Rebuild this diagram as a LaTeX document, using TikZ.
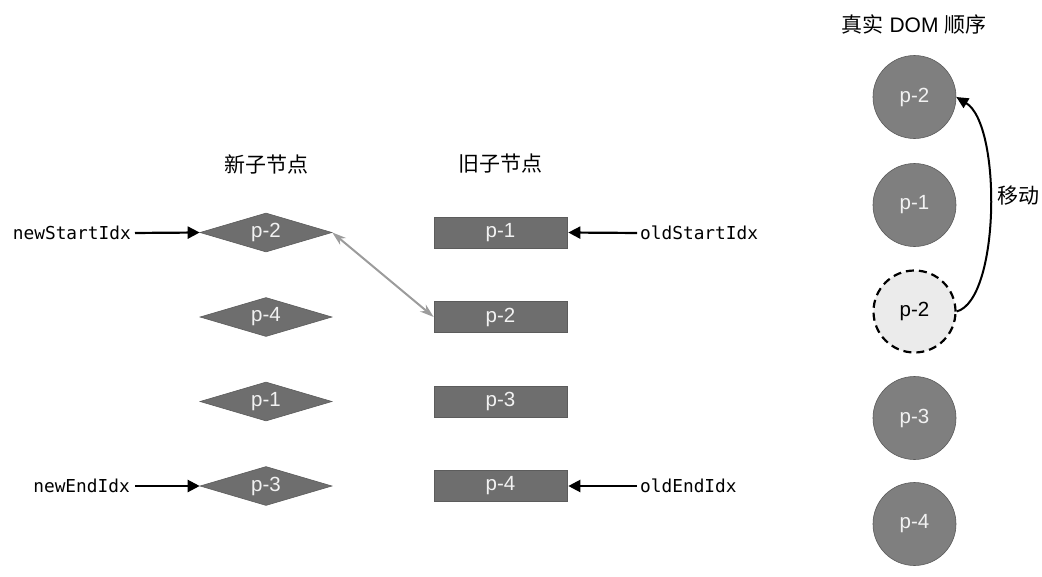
\documentclass[tikz,border=0pt]{standalone}
\usepackage{fontspec}
\setmainfont{Liberation Sans}
\setmonofont{DejaVu Sans Mono}
\newfontfamily\cjk{Noto Sans CJK SC}
\usetikzlibrary{shapes.geometric,arrows.meta}
\definecolor{shapefill}{HTML}{6E6E6E}
\definecolor{shapeedge}{HTML}{5C5C5C}
\definecolor{circfill}{HTML}{7F7F7F}
\definecolor{circedge}{HTML}{5A5A5A}
\definecolor{ghostfill}{HTML}{EBEBEB}
\definecolor{linkgray}{HTML}{9C9C9C}
\definecolor{lbltext}{HTML}{F2F2F2}
\tikzset{
  nodetxt/.style={font=\fontsize{20.5}{24}\selectfont, text=lbltext},
  newnode/.style={diamond, shape aspect=3.4, fill=shapefill, draw=shapeedge, line width=0.6pt,
     minimum width=132pt, minimum height=39pt, inner sep=0pt, nodetxt},
  oldnode/.style={rectangle, fill=shapefill, draw=shapeedge, line width=0.6pt,
     minimum width=133pt, minimum height=31pt, inner sep=0pt, nodetxt},
  domnode/.style={circle, fill=circfill, draw=circedge, line width=0.6pt,
     minimum size=83pt, inner sep=0pt, nodetxt},
  ghostnode/.style={circle, fill=ghostfill, draw=black, line width=2.2pt, dash pattern=on 8pt off 5pt,
     minimum size=82pt, inner sep=0pt, font=\fontsize{20.5}{24}\selectfont, text=black},
  idx/.style={font=\ttfamily\fontsize{17.8}{20}\selectfont, inner sep=0pt},
  heading/.style={font=\cjk\fontsize{21}{25}\selectfont, inner sep=0pt},
  ptr/.style={line width=2.2pt, -{Triangle[length=12pt,width=12pt]}},
  swap/.style={draw=linkgray, line width=2pt, {Stealth[length=14pt,width=9pt]}-{Stealth[length=14pt,width=9pt]}},
}
\begin{document}
\begin{tikzpicture}[x=1pt,y=-1pt]
\useasboundingbox (0,0) rectangle (1042,576);

% headings
\node[heading] (hnew) at (266,164) {新子节点};
\node[heading] (hold) at (500,164) {旧子节点};
\node[font=\fontsize{21}{25}\selectfont, inner sep=0pt] (hdom) at (914,24) {{\cjk 真实} DOM {\cjk 顺序}};

% new children
\node[newnode] (n1) at (266,232.5) {p-2};
\node[newnode] (n2) at (266,317) {p-4};
\node[newnode] (n3) at (266,401.5) {p-1};
\node[newnode] (n4) at (266,486) {p-3};

% old children
\node[oldnode] (o1) at (500.5,232.5) {p-1};
\node[oldnode] (o2) at (500.5,317) {p-2};
\node[oldnode] (o3) at (500.5,401.5) {p-3};
\node[oldnode] (o4) at (500.5,486) {p-4};

% real DOM
\node[domnode] (d1) at (914.5,97) {p-2};
\node[domnode] (d2) at (914.5,205) {p-1};
\node[ghostnode] (d3) at (914.5,311.5) {p-2};
\node[domnode] (d4) at (914.5,418) {p-3};
\node[domnode] (d5) at (914.5,524) {p-4};

% index labels
\node[idx, anchor=east] (nsi) at (131,233) {newStartIdx};
\node[idx, anchor=east] (nei) at (130,486) {newEndIdx};
\node[idx, anchor=west] (osi) at (640,233) {oldStartIdx};
\node[idx, anchor=west] (oei) at (640,486) {oldEndIdx};

\draw[ptr, shorten <=4pt] (nsi.east) -- (n1.west);
\draw[ptr, shorten <=5pt] (nei.east) -- (n4.west);
\draw[ptr, shorten <=3pt, shorten >=1pt] (osi.west) -- (o1.east);
\draw[ptr, shorten <=3pt, shorten >=1pt] (oei.west) -- (o4.east);

% match
\draw[swap] (n1.east) -- (o2.west);

% move
\draw[line width=2pt, -{Triangle[length=12pt,width=11pt]}]
  (d3.east) .. controls (1000,300) and (1002,125) .. (d1.east);
\node[heading, anchor=west] (mv) at (997,196) {移动};
\end{tikzpicture}
\end{document}
